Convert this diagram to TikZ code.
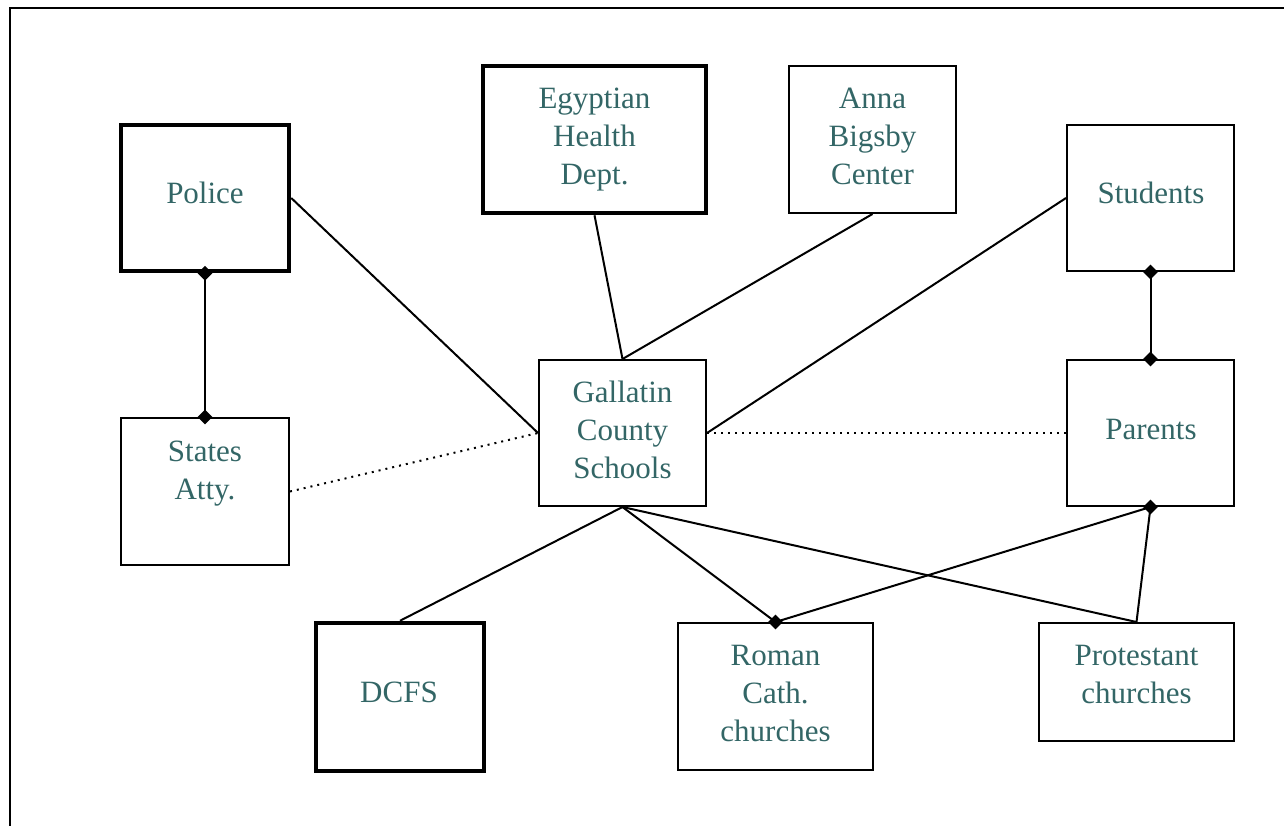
\documentclass[tikz,border=0pt]{standalone}
\usepackage{fontspec}
\setmainfont{Liberation Serif}
\usetikzlibrary{shapes.geometric}
\definecolor{tealtxt}{RGB}{51,102,102}
\tikzset{
  box/.style={draw=black, line width=2pt, inner sep=0pt, anchor=center},
  thickbox/.style={draw=black, line width=4.5pt, inner sep=0pt, anchor=center},
  txt/.style={text=tealtxt, align=center, inner sep=0pt, font=\fontsize{31}{38}\selectfont},
  conn/.style={draw=black, line width=2pt},
  dots/.style={draw=black, line width=2pt, dash pattern=on 2pt off 5pt},
  dmark/.style={diamond, fill=black, inner sep=0pt, minimum width=15pt, minimum height=15pt, aspect=1}
}
\begin{document}
\begin{tikzpicture}[x=1pt,y=-1pt]
\useasboundingbox (0,0) rectangle (1284,825);
\draw[line width=2.5pt] (10,835) -- (10,8) -- (1295,8);
% boxes
\node[thickbox, minimum width=168pt, minimum height=146pt] (police) at (205,198) {};
\node[thickbox, minimum width=223pt, minimum height=147pt] (egypt) at (594.5,139.5) {};
\node[box, minimum width=167pt, minimum height=147pt] (anna) at (872.5,139.5) {};
\node[box, minimum width=167pt, minimum height=146pt] (students) at (1150.5,198) {};
\node[box, minimum width=168pt, minimum height=147pt] (states) at (205,491.5) {};
\node[box, minimum width=167pt, minimum height=146pt] (gcs) at (622.5,433) {};
\node[box, minimum width=167pt, minimum height=146pt] (parents) at (1150.5,433) {};
\node[thickbox, minimum width=168pt, minimum height=148pt] (dcfs) at (400,697) {};
\node[box, minimum width=195pt, minimum height=147pt] (roman) at (775.5,696.5) {};
\node[box, minimum width=195pt, minimum height=118pt] (prot) at (1136.5,682) {};
% texts
\node[txt] (police-t) at (205,193) {Police};
\node[txt] (egypt-t) at (594.5,140) {Egyptian\\Health\\Dept.};
\node[txt] (anna-t) at (872.5,136) {Anna\\Bigsby\\Center};
\node[txt] (students-t) at (1151,193) {Students};
\node[txt] (states-t) at (205,474) {States\\Atty.};
\node[txt] (gcs-t) at (622.5,430) {Gallatin\\County\\Schools};
\node[txt] (parents-t) at (1151,429) {Parents};
\node[txt] (dcfs-t) at (399,692) {DCFS};
\node[txt] (roman-t) at (775.5,693) {Roman\\Cath.\\churches};
\node[txt] (prot-t) at (1136.5,674) {Protestant\\churches};
% connectors
\draw[conn] (police.east) -- (gcs.west);
\draw[dots] (states.east) -- (gcs.west);
\draw[conn] (egypt.south) -- (gcs.north);
\draw[conn] (anna.south) -- (gcs.north);
\draw[conn] (students.west) -- (gcs.east);
\draw[dots] (gcs.east) -- (parents.west);
\draw[conn] (police.south) -- (states.north);
\draw[conn] (students.south) -- (parents.north);
\draw[conn] (gcs.south) -- (dcfs.north);
\draw[conn] (gcs.south) -- (roman.north);
\draw[conn] (gcs.south) -- (prot.north);
\draw[conn] (roman.north) -- (parents.south);
\draw[conn] (prot.north) -- (parents.south);
% diamond ends
\node[dmark] (d1) at (police.south) {};
\node[dmark] (d2) at (states.north) {};
\node[dmark] (d3) at (students.south) {};
\node[dmark] (d4) at (parents.north) {};
\node[dmark] (d5) at (roman.north) {};
\node[dmark] (d6) at (parents.south) {};
\end{tikzpicture}
\end{document}
